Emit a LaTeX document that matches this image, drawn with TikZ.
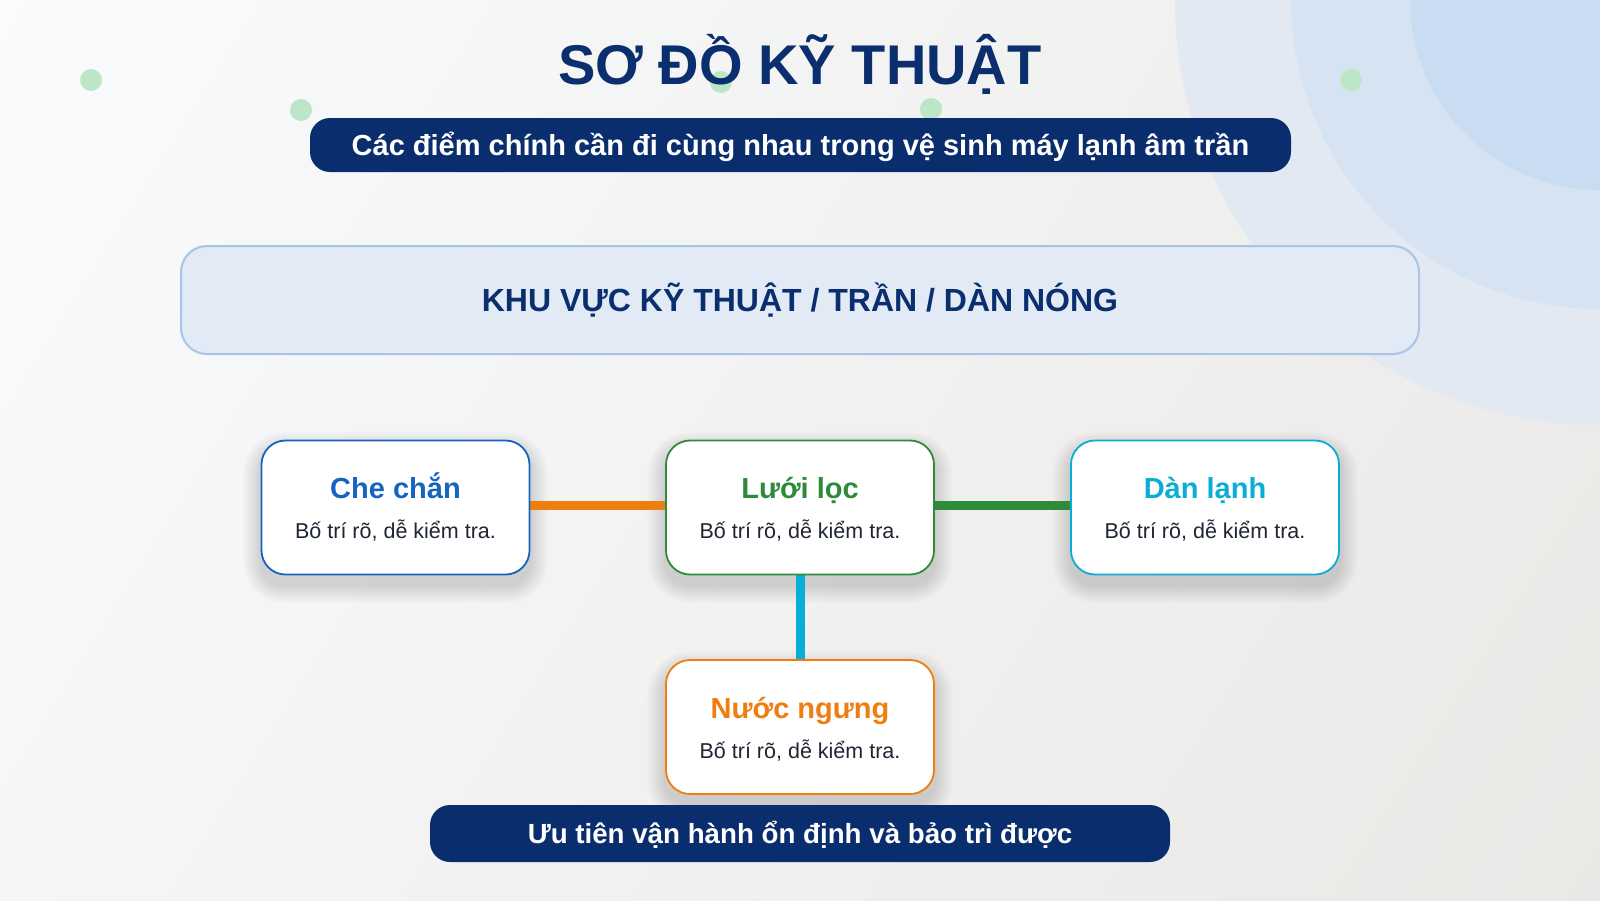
\documentclass[tikz,border=0pt]{standalone}
\usepackage{fontspec}
\setmainfont{Liberation Sans}
\usetikzlibrary{calc}
\definecolor{navy}{HTML}{0B2E6E}
\definecolor{pillnavy}{HTML}{0A2D6E}
\definecolor{regfill}{HTML}{E1EAF5}
\definecolor{regdraw}{HTML}{A8C4E6}
\definecolor{cblue}{HTML}{1565C0}
\definecolor{cgreen}{HTML}{2E8B3A}
\definecolor{ccyan}{HTML}{0AADD5}
\definecolor{corange}{HTML}{EF7D10}
\definecolor{bodytxt}{HTML}{1E2533}
\definecolor{dotgreen}{HTML}{BDE6C7}
\definecolor{ringA}{HTML}{E2E9F2}
\definecolor{ringB}{HTML}{D6E3F2}
\definecolor{ringC}{HTML}{C9DCF1}
\definecolor{bgTL}{HTML}{FAFCFE}
\definecolor{bgBR}{HTML}{E9E7E4}
\pgfdeclarelayer{bglayer}
\pgfdeclarelayer{shlayer}
\pgfdeclarelayer{connlayer}
\pgfsetlayers{bglayer,shlayer,connlayer,main}
\tikzset{
  pill/.style={fill=pillnavy, rounded corners=20pt, inner sep=0pt},
  card/.style={rectangle, rounded corners=24pt, minimum width=268pt, minimum height=134pt,
    fill=white, line width=1.8pt, inner sep=0pt},
  cardtitle/.style={anchor=base, font=\bfseries\fontsize{29}{31}\selectfont},
  cardbody/.style={anchor=base, text=bodytxt, font=\fontsize{21.5}{24}\selectfont},
  link/.style={line width=9pt},
  deco/.style={fill=dotgreen, draw=none},
}
\begin{document}
\begin{tikzpicture}[x=1pt,y=-1pt]
\useasboundingbox (0,0) rectangle (1600,900);
\begin{pgfonlayer}{bglayer}
  \begin{scope}
    \clip (0,0) rectangle (1600,900);
    \shade[top color=bgTL, bottom color=bgBR, shading angle=58] (-300,-500) rectangle (1900,1400);
    \fill[ringA] (1600,0) circle[radius=425];
    \fill[ringB] (1600,0) circle[radius=309];
    \fill[ringC] (1600,0) circle[radius=190];
  \end{scope}
  \fill[deco] (91,80) circle[radius=11];
  \fill[deco] (301,110) circle[radius=11];
  \fill[deco] (721,82) circle[radius=11];
  \fill[deco] (931,109) circle[radius=11];
  \fill[deco] (1351,80) circle[radius=11];
\end{pgfonlayer}

% title
\node[anchor=base, text=navy, font=\bfseries\fontsize{56}{60}\selectfont] (title) at (800,84) {SƠ ĐỒ KỸ THUẬT};

% subtitle pill
\path[pill] (310,118) rectangle (1291,172);
\node[anchor=base, text=white, font=\bfseries\fontsize{29}{32}\selectfont] (subtitle) at (800.5,155) {Các điểm chính cần đi cùng nhau trong vệ sinh máy lạnh âm trần};

% region
\draw[fill=regfill, draw=regdraw, line width=2pt, rounded corners=26pt] (181,246) rectangle (1419,354);
\node[anchor=base, text=navy, font=\bfseries\fontsize{32}{35}\selectfont] (region) at (800,311) {KHU VỰC KỸ THUẬT / TRẦN / DÀN NÓNG};

% cards
\node[card, draw=cblue] (che) at (395.5,507.5) {};
\node[card, draw=cgreen] (loc) at (800,507.5) {};
\node[card, draw=ccyan] (lanh) at (1205,507.5) {};
\node[card, draw=corange] (nuoc) at (800,727) {};

\node[cardtitle, text=cblue] (cheT) at ($(che.north)+(0,59)$) {Che chắn};
\node[cardbody] (cheB) at ($(che.north)+(0,99)$) {Bố trí rõ, dễ kiểm tra.};
\node[cardtitle, text=cgreen] (locT) at ($(loc.north)+(0,59)$) {Lưới lọc};
\node[cardbody] (locB) at ($(loc.north)+(0,99)$) {Bố trí rõ, dễ kiểm tra.};
\node[cardtitle, text=ccyan] (lanhT) at ($(lanh.north)+(0,59)$) {Dàn lạnh};
\node[cardbody] (lanhB) at ($(lanh.north)+(0,99)$) {Bố trí rõ, dễ kiểm tra.};
\node[cardtitle, text=corange] (nuocT) at ($(nuoc.north)+(0,59)$) {Nước ngưng};
\node[cardbody] (nuocB) at ($(nuoc.north)+(0,99)$) {Bố trí rõ, dễ kiểm tra.};

\begin{pgfonlayer}{shlayer}
  \foreach \n in {che,loc,lanh,nuoc}{
    \foreach \i in {1,...,18}{
      \fill[black, opacity=0.0065, rounded corners={(24+\i)*1pt}]
        ($(\n.north west)+(-\i,10-\i)$) rectangle ($(\n.south east)+(\i,10+\i)$);
    }
  }
\end{pgfonlayer}

\begin{pgfonlayer}{connlayer}
  \draw[link, corange] (che.east |- 0,505) -- (loc.west |- 0,505);
  \draw[link, cgreen] (loc.east |- 0,505) -- (lanh.west |- 0,505);
  \draw[link, ccyan] (loc.south) -- (nuoc.north);
\end{pgfonlayer}

% bottom pill
\path[pill] (430,805) rectangle (1170,862);
\node[anchor=base, text=white, font=\bfseries\fontsize{27.7}{30}\selectfont] (footer) at (800,843) {Ưu tiên vận hành ổn định và bảo trì được};
\end{tikzpicture}
\end{document}
